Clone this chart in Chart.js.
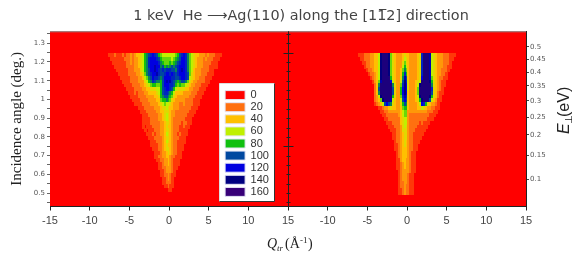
<!DOCTYPE html>
<html><head><meta charset="utf-8">
<style>html,body{margin:0;padding:0;background:#fff}canvas{display:block;filter:blur(0.45px)}</style>
<script src="https://cdn.jsdelivr.net/npm/chart.js@4"></script>
</head><body><canvas id="c" width="581" height="274"></canvas>
<script>
// Cell levels: each character is a value / 10 in base 17 (0-9, a-g). Columns step 0.25, spaces only group 2 units.
const rowAngles=[1.235,1.215,1.195,1.175,1.155,1.135,1.115,1.095,1.075,1.055,1.035,1.015,0.995,0.975,0.955,0.935,0.915,0.895,0.875,0.855,0.835,0.815,0.795,0.775,0.755,0.735,0.715,0.695,0.675,0.655,0.635,0.615,0.595,0.575,0.555,0.535,0.515,0.498];
const leftFirstCol=-8, rightFirstCol=-6.5, colStep=0.25;
const measuredRows=[
"00111211 12122323 44568 9ab cba87666 66667 8ab cb976544 33323222 11100",
"00011111 11222323 34568 9bc ccba8777 77678 9ac cb976543 33232221 11000",
"00001111 11122323 34568 9bc cccb9877 78789abc cb976543 33222211 10000",
"00000111 11122223 34568 9bc cdcc9a89 89a9abcc cb976543 33222111 10000",
"00000011 11112223 33568 9ac cdcbabab bbaa9bcd cb976433 32222110 00000",
"00000001 11112222 33457 9ab ccdbaabc cbcbabcc cba75433 32221110 00000",
"00000000 11111222 23346 79a cbba9acc ccbbaabc cba65433 22211100 00000",
"00000000 01111222 23335 689 ba998acd cdba989a a9754332 22211000 00000",
"00000000 00111122 22334 567 88778acc cbba8787 76543322 21110000 00000",
"00000000 00011112 22233 445 55668abc cba86555 54433222 11100000 00000",
"00000000 00001112 12223 344 44568abb a9864444 33332221 11000000 00000",
"00000000 00000111 12222 333 34458 9aa 98754333 33322211 10000000 00000",
"00000000 00000011 11222 233 33447889 87543333 32222111 00000000 00000",
"00000000 00000001 11122 223 33345676 65433322 32222111 00000000 00000",
"00000000 00000000 01112 222 23334556 54433322 22221110 00000000 00000",
"00000000 00000000 00111 222 22334455 54332222 22211100 00000000 00000",
"00000000 00000000 00011 122 22233456 54332222 22111000 00000000 00000",
"00000000 00000000 00011 112 22233456 54322222 21110000 00000000 00000",
"00000000 00000000 00011 112 22223345 54322221 22110000 00000000 00000",
"00000000 00000000 00010 111 22223345 44322211 21100000 00000000 00000",
"00000000 00000000 00001 011 12223345 54322211 11000000 00000000 00000",
"00000000 00000000 00000 111 21223346 54322121 11000000 00000000 00000",
"00000000 00000000 00000 011 12222345 54322211 10000000 00000000 00000",
"00000000 00000000 00000 001 11222346 54322111 10000000 00000000 00000",
"00000000 00000000 00000 001 11122345 44322111 00000000 00000000 00000",
"00000000 00000000 00000 000 11122345 54322111 00000000 00000000 00000",
"00000000 00000000 00000 000 01112334 54322110 00000000 00000000 00000",
"00000000 00000000 00000 000 01122334 43221110 00000000 00000000 00000",
"00000000 00000000 00000 000 00112233 43211100 00000000 00000000 00000",
"00000000 00000000 00000 000 00011233 43211100 00000000 00000000 00000",
"00000000 00000000 00000 000 00011223 33211000 00000000 00000000 00000",
"00000000 00000000 00000 000 00001123 33210000 00000000 00000000 00000",
"00000000 00000000 00000 000 00001122 32110000 00000000 00000000 00000",
"00000000 00000000 00000 000 00000112 32100000 00000000 00000000 00000",
"00000000 00000000 00000 000 00000112 22100000 00000000 00000000 00000",
"00000000 00000000 00000 000 00000011 21100000 00000000 00000000 00000",
"00000000 00000000 00000 000 00000000 11000000 00000000 00000000 00000"];
const simulatedRows=[
"00 11122233 446efffe 75433345 44333345 bfffd654 33322211 100",
"00 01122233 446efffe 75433346 54333345 bfffd654 33322211 000",
"00 00112233 446efffe 75433357 54333345 bfffd654 33322210 000",
"00 00012233 446efffe 75433368 64333345 bfffd654 33322110 000",
"00 00001223 446efffe 75433479 74333345 bfffd654 33222100 000",
"00 00000122 346efffe 7543348b 84333345 bfffd654 33221000 000",
"00 00000012 346effff 8543359d a4333345 cfffd754 32211000 000",
"00 00000001 347dffff c64336ae b5333456 ffffe854 32110000 000",
"00 00000000 249fffff f95337be c533346e fffff954 32110000 000",
"00 00000000 24afffff fa5338ce c533347f fffffb54 32100000 000",
"00 00000000 249fffff fa5338ce c433347f fffffa54 21100000 000",
"00 00000000 236effff f85337bd b433346e ffffe854 21000000 000",
"00 00000000 2347efff d64336ac a4333458 efffa643 11000000 000",
"00 00000000 12346aca 9543358a 94333346 cb854332 10000000 000",
"00 00000000 00112334 54433478 84333344 65433221 10000000 000",
"00 00000000 00011223 33333467 73333333 33322211 00000000 000",
"00 00000000 00001122 22223467 73222222 22221110 00000000 000",
"00 00000000 00000112 22222456 63222222 22211100 00000000 000",
"00 00000000 00000011 12222456 63222221 21110000 00000000 000",
"00 00000000 00000001 11222356 53222211 11100000 00000000 000",
"00 00000000 00000000 11122355 53222111 11000000 00000000 000",
"00 00000000 00000000 01122345 53221111 10000000 00000000 000",
"00 00000000 00000000 01122345 53221111 00000000 00000000 000",
"00 00000000 00000000 00122345 43221110 00000000 00000000 000",
"00 00000000 00000000 00112345 43221100 00000000 00000000 000",
"00 00000000 00000000 00112344 43221100 00000000 00000000 000",
"00 00000000 00000000 00012344 43211000 00000000 00000000 000",
"00 00000000 00000000 00012344 43211000 00000000 00000000 000",
"00 00000000 00000000 00011344 33211000 00000000 00000000 000",
"00 00000000 00000000 00011234 33211000 00000000 00000000 000",
"00 00000000 00000000 00011234 33211000 00000000 00000000 000",
"00 00000000 00000000 00001233 33211000 00000000 00000000 000",
"00 00000000 00000000 00001233 32110000 00000000 00000000 000",
"00 00000000 00000000 00001233 32110000 00000000 00000000 000",
"00 00000000 00000000 00001223 32110000 00000000 00000000 000",
"00 00000000 00000000 00001223 22110000 00000000 00000000 000",
"00 00000000 00000000 00001123 22110000 00000000 00000000 000",
"00 00000000 00000000 00001123 22110000 00000000 00000000 000"];
const legendValues=[0,20,40,60,80,100,120,140,160];
const legendColors=['#ff0000','#ff7010','#ffc000','#c0f000','#10c010','#0048a0','#0000e0','#000080','#380078'];
const xTickValues=[-15,-10,-5,0,5,10,15,20,25,30,35,40,45];
const xTickLabels=['-15','-10','-5','0','5','10','15','-10','-5','0','5','10','15'];
const leftTickValues=[0.45,0.5,0.55,0.6,0.65,0.7,0.75,0.8,0.85,0.9,0.95,1,1.05,1.1,1.15,1.2,1.25,1.3,1.35];
const leftTickLabels=['','0.5','','0.6','','0.7','','0.8','','0.9','','1','','1.1','','1.2','','1.3',''];
const energyValues=[0.1,0.15,0.2,0.25,0.3,0.35,0.4,0.45,0.5];
const energyLabels=['0.1','0.15','0.2','0.25','0.3','0.35','0.4','0.45','0.5'];
const centerTicks=[0.45,0.5,0.55,0.6,0.65,0.7,0.75,0.8,0.85,0.9,0.95,1,1.05,1.1,1.15,1.2,1.25,1.3,1.35];
const titleText='1 keV  He \u27F6Ag(110) along the [11\u03052] direction';
const beamEnergyEV=1000, rightPanelShift=30;

function hex(c){return [1,3,5].map(i=>parseInt(c.substr(i,2),16));}
function colorFor(v){
  const t=Math.min(v/20,legendColors.length-1),i=Math.floor(t),j=Math.min(i+1,legendColors.length-1),f=t-i;
  const a=hex(legendColors[i]),b=hex(legendColors[j]);
  return 'rgb('+a.map((x,k)=>Math.round(x+(b[k]-x)*f)).join(',')+')';
}
const sprites={};
function sprite(v){
  if(!sprites[v]){const c=document.createElement('canvas');c.width=3;c.height=4;const g=c.getContext('2d');g.fillStyle=colorFor(v);g.fillRect(0,0,3,4);sprites[v]=c;}
  return sprites[v];
}
function cells(rows,first,shift){
  const pts=[],styles=[];
  rows.forEach((row,r)=>{
    const s=row.replace(/\s/g,'');
    for(let c=0;c<s.length;c++){
      const v=parseInt(s[c],17)*10;
      if(!v)continue;
      pts.push({x:first+c*colStep+shift,y:rowAngles[r]});styles.push(sprite(v));
    }
  });
  return {pts,styles};
}
const L=cells(measuredRows,leftFirstCol,0),R=cells(simulatedRows,rightFirstCol,rightPanelShift);
function ds(label,d){return {label,data:d.pts,pointStyle:d.styles,pointRadius:2,pointBorderWidth:0,pointHoverRadius:2,showLine:false,clip:false};}
const tickFont={family:'"DejaVu Sans"',size:7};
const extras={id:'extras',
  beforeDraw(ch){const a=ch.chartArea,g=ch.ctx;g.save();g.fillStyle=legendColors[0];g.fillRect(a.left,a.top,a.right-a.left,a.bottom-a.top);g.restore();},
  afterLayout(ch){
    ch.titleBlock.left=21;
    const l=ch.legend;l.left=224;l.top=88.5;l.right=274;l.bottom=210;
  },
  afterDraw(ch){
    const g=ch.ctx,a=ch.chartArea,yS=ch.scales.y,xS=ch.scales.x;
    g.save();
    g.strokeStyle='#8a8a8a';g.lineWidth=1;g.beginPath();g.moveTo(a.left,a.top+.5);g.lineTo(a.right,a.top+.5);g.stroke();
    const mx=Math.round(xS.getPixelForValue(15))+.5;
    g.strokeStyle='#222';g.beginPath();g.moveTo(mx,a.top);g.lineTo(mx,a.bottom);
    centerTicks.forEach(v=>{const y=Math.round(yS.getPixelForValue(v))+.5,major=(v===1.25||v===0.75)?5:2;g.moveTo(mx-major,y);g.lineTo(mx+major,y);});
    g.stroke();
    g.fillStyle='#fff';g.fillRect(219.5,83.5,55,118);
    g.strokeStyle='#ddd';g.beginPath();g.moveTo(219.5,201.5);g.lineTo(219.5,83.5);g.lineTo(274.5,83.5);g.stroke();
    g.strokeStyle='#333';g.beginPath();g.moveTo(274.5,83.5);g.lineTo(274.5,201.5);g.lineTo(219.5,201.5);g.stroke();
    ch.legend.draw();
    g.fillStyle='#222';g.textBaseline='alphabetic';g.textAlign='left';
    g.font='italic 14px "Liberation Serif"';g.fillText('Q',267,248);
    g.font='italic 9px "Liberation Serif"';g.fillText('tr',277,251);
    g.font='14px "Liberation Serif"';g.fillText('(\u00C5',285,248);
    g.font='9px "Liberation Serif"';g.fillText('-1',300,243);
    g.font='14px "Liberation Serif"';g.fillText(')',308,248);
    g.translate(569,134);g.rotate(-Math.PI/2);
    g.font='italic 16px "Liberation Sans"';g.fillText('E',0,0);
    g.font='10px "DejaVu Sans"';g.fillText('\u22A5',10,3);
    g.font='16px "Liberation Sans"';g.fillText('(eV)',17,0);
    g.restore();
  }};
new Chart(document.getElementById('c'),{
  type:'scatter',
  data:{datasets:[ds('measured',L),ds('simulated',R)]},
  plugins:[extras],
  options:{responsive:false,animation:false,events:[],
    layout:{padding:0},
    plugins:{
      tooltip:{enabled:false},
      title:{display:true,text:titleText,color:'#444',font:{family:'"DejaVu Sans"',size:14.4,weight:'normal'},padding:{top:8,bottom:6}},
      legend:{display:true,position:'chartArea',align:'start',
        labels:{boxWidth:20,boxHeight:9,padding:1.1,color:'#333',font:{family:'"Liberation Sans"',size:11},
          generateLabels(){return legendValues.map((v,i)=>({text:String(v),fillStyle:legendColors[i],strokeStyle:'#e6e6f5',fontColor:'#333',lineWidth:1,hidden:false,index:i}));}}}
    },
    scales:{
      x:{type:'linear',min:-15,max:45,position:'bottom',
        afterBuildTicks(s){s.ticks=xTickValues.map(value=>({value}));},
        afterFit(s){s.height=67.5;},
        grid:{drawOnChartArea:false,tickLength:4,color:'#222'},border:{color:'#222'},
        ticks:{autoSkip:false,maxRotation:0,color:'#444',padding:4,font:{family:'"Liberation Sans"',size:11},callback:(v,i)=>xTickLabels[i]}},
      y:{type:'linear',min:0.428,max:1.364,position:'left',
        afterBuildTicks(s){s.ticks=leftTickValues.map(value=>({value}));},
        afterFit(s){s.width=50;},
        grid:{drawOnChartArea:false,tickLength:3,color:'#666'},border:{display:false},
        title:{display:true,text:'Incidence angle (deg.)',color:'#222',font:{family:'"Liberation Serif"',size:15},padding:{top:8,bottom:0}},
        ticks:{autoSkip:false,color:'#555',padding:2,font:tickFont,callback:(v,i)=>leftTickLabels[i]}},
      y2:{type:'linear',min:0.428,max:1.364,position:'right',
        afterBuildTicks(s){s.ticks=energyValues.map(E=>({value:Math.asin(Math.sqrt(E/beamEnergyEV))*180/Math.PI}));},
        afterFit(s){s.width=55;},
        grid:{drawOnChartArea:false,tickLength:3,color:'#444'},border:{color:'#222'},
        ticks:{autoSkip:false,color:'#555',padding:1,font:tickFont,callback:(v,i)=>energyLabels[i]}}
    }
  }
});
</script></body></html>
